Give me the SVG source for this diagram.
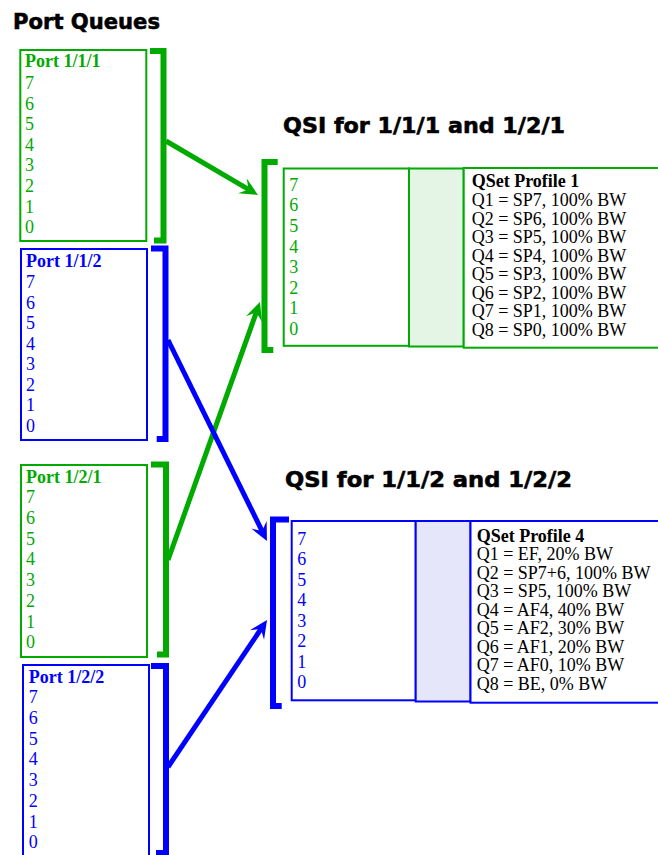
<svg xmlns="http://www.w3.org/2000/svg" width="658" height="855" viewBox="0 0 658 855">
<style>
.title{font-family:"DejaVu Sans",sans-serif;font-weight:bold;font-size:22px;fill:#000;stroke:#000;stroke-width:0.6}
.t{font-family:"Liberation Serif","Times New Roman",serif;font-size:18px}
.b{font-weight:bold}
.g{fill:#00aa00}
.bl{fill:#0000ff}
.k{fill:#000}
.boxg{fill:#fff;stroke:#00aa00;stroke-width:2}
.boxb{fill:#fff;stroke:#0000ff;stroke-width:2}
.brg{fill:none;stroke:#00aa00;stroke-width:6;stroke-linejoin:miter}
.brb{fill:none;stroke:#0000ff;stroke-width:6;stroke-linejoin:miter}
.ag{stroke:#00aa00;stroke-width:5;fill:none}
.ab{stroke:#0000ff;stroke-width:5;fill:none}
</style>
<defs>
<marker id="mg" markerUnits="userSpaceOnUse" viewBox="-20 -10 22 20" markerWidth="22" markerHeight="20" refX="-11" refY="0" orient="auto">
<path d="M0,0 L-18,-8.5 L-11,0 L-18,8.5 Z" fill="#00aa00"/>
</marker>
<marker id="mb" markerUnits="userSpaceOnUse" viewBox="-20 -10 22 20" markerWidth="22" markerHeight="20" refX="-11" refY="0" orient="auto">
<path d="M0,0 L-18,-8.5 L-11,0 L-18,8.5 Z" fill="#0000ff"/>
</marker>
</defs>
<rect width="658" height="855" fill="#fff"/>
<text class="title" x="13" y="29" textLength="147" lengthAdjust="spacingAndGlyphs">Port Queues</text>
<text class="title" x="283" y="133" textLength="282" lengthAdjust="spacingAndGlyphs">QSI for 1/1/1 and 1/2/1</text>
<text class="title" x="285" y="487" textLength="287" lengthAdjust="spacingAndGlyphs">QSI for 1/1/2 and 1/2/2</text>

<g id="port111">
<rect class="boxg" x="20.3" y="50" width="126" height="191"/>
<path class="brg" d="M150,51 H163.5 V240.5 H154"/>
<text class="t g b" x="25" y="67">Port 1/1/1</text>
<text class="t g" x="25" y="89">7</text><text class="t g" x="25" y="109.6">6</text><text class="t g" x="25" y="130.2">5</text><text class="t g" x="25" y="150.8">4</text><text class="t g" x="25" y="171.4">3</text><text class="t g" x="25" y="192">2</text><text class="t g" x="25" y="212.6">1</text><text class="t g" x="25" y="233.2">0</text>
</g>
<g id="port112">
<rect class="boxb" x="21" y="249" width="126" height="191"/>
<path class="brb" d="M151,248.5 H165.5 V439 H156.7"/>
<text class="t bl b" x="26" y="266.7">Port 1/1/2</text>
<text class="t bl" x="26" y="288.3">7</text><text class="t bl" x="26" y="308.8">6</text><text class="t bl" x="26" y="329.3">5</text><text class="t bl" x="26" y="349.8">4</text><text class="t bl" x="26" y="370.3">3</text><text class="t bl" x="26" y="390.8">2</text><text class="t bl" x="26" y="411.3">1</text><text class="t bl" x="26" y="431.8">0</text>
</g>
<g id="port121">
<rect class="boxg" x="21" y="465" width="126" height="192"/>
<path class="brg" d="M151,464.5 H166 V654.5 H157"/>
<text class="t g b" x="26" y="483.3">Port 1/2/1</text>
<text class="t g" x="26" y="503.3">7</text><text class="t g" x="26" y="524">6</text><text class="t g" x="26" y="544.7">5</text><text class="t g" x="26" y="565.4">4</text><text class="t g" x="26" y="586.1">3</text><text class="t g" x="26" y="606.8">2</text><text class="t g" x="26" y="627.5">1</text><text class="t g" x="26" y="648.2">0</text>
</g>
<g id="port122">
<rect class="boxb" x="23" y="665" width="126" height="200"/>
<path class="brb" d="M151,666 H166 V853 H156"/>
<text class="t bl b" x="28.7" y="683.3">Port 1/2/2</text>
<text class="t bl" x="28.7" y="703.3">7</text><text class="t bl" x="28.7" y="724">6</text><text class="t bl" x="28.7" y="744.7">5</text><text class="t bl" x="28.7" y="765.4">4</text><text class="t bl" x="28.7" y="786.1">3</text><text class="t bl" x="28.7" y="806.8">2</text><text class="t bl" x="28.7" y="827.5">1</text><text class="t bl" x="28.7" y="848.2">0</text>
</g>

<g id="qsi1">
<rect class="boxg" x="283.7" y="168.5" width="125.3" height="177.3"/>
<rect x="409" y="168.5" width="54.7" height="178" fill="#e5f5e5" stroke="#00aa00" stroke-width="2"/>
<rect class="boxg" x="463.7" y="168" width="200" height="179.7"/>
<path class="brg" d="M277.7,162 H264.5 V350 H273.3"/>
<text class="t g" x="289.3" y="190.7">7</text><text class="t g" x="289.3" y="211.3">6</text><text class="t g" x="289.3" y="231.9">5</text><text class="t g" x="289.3" y="252.5">4</text><text class="t g" x="289.3" y="273.1">3</text><text class="t g" x="289.3" y="293.7">2</text><text class="t g" x="289.3" y="314.3">1</text><text class="t g" x="289.3" y="334.9">0</text>
<text class="t k b" x="471.7" y="187">QSet Profile 1</text>
<text class="t k" x="471.7" y="206">Q1 = SP7, 100% BW</text>
<text class="t k" x="471.7" y="224.5">Q2 = SP6, 100% BW</text>
<text class="t k" x="471.7" y="243.1">Q3 = SP5, 100% BW</text>
<text class="t k" x="471.7" y="261.6">Q4 = SP4, 100% BW</text>
<text class="t k" x="471.7" y="280.1">Q5 = SP3, 100% BW</text>
<text class="t k" x="471.7" y="298.7">Q6 = SP2, 100% BW</text>
<text class="t k" x="471.7" y="317.2">Q7 = SP1, 100% BW</text>
<text class="t k" x="471.7" y="335.7">Q8 = SP0, 100% BW</text>
</g>

<g id="qsi4">
<rect class="boxb" x="291.7" y="521" width="124" height="179.3"/>
<rect x="415.7" y="521" width="54.8" height="180.5" fill="#e6e6fa" stroke="#0000ff" stroke-width="2"/>
<rect class="boxb" x="470.5" y="521" width="200" height="181.7"/>
<path class="brb" d="M289,519.5 H273 V706 H281.7"/>
<text class="t bl" x="297.3" y="545">7</text><text class="t bl" x="297.3" y="565.4">6</text><text class="t bl" x="297.3" y="585.9">5</text><text class="t bl" x="297.3" y="606.3">4</text><text class="t bl" x="297.3" y="626.7">3</text><text class="t bl" x="297.3" y="647.2">2</text><text class="t bl" x="297.3" y="667.6">1</text><text class="t bl" x="297.3" y="688">0</text>
<text class="t k b" x="476.7" y="541.7">QSet Profile 4</text>
<text class="t k" x="476.7" y="560">Q1 = EF, 20% BW</text>
<text class="t k" x="476.7" y="578.6">Q2 = SP7+6, 100% BW</text>
<text class="t k" x="476.7" y="597.1">Q3 = SP5, 100% BW</text>
<text class="t k" x="476.7" y="615.7">Q4 = AF4, 40% BW</text>
<text class="t k" x="476.7" y="634.3">Q5 = AF2, 30% BW</text>
<text class="t k" x="476.7" y="652.9">Q6 = AF1, 20% BW</text>
<text class="t k" x="476.7" y="671.4">Q7 = AF0, 10% BW</text>
<text class="t k" x="476.7" y="690">Q8 = BE, 0% BW</text>
</g>

<g id="connectors">
<line class="ag" x1="166" y1="141" x2="248.5" y2="189.4" marker-end="url(#mg)"/>
<line class="ag" x1="168" y1="560" x2="256.3" y2="312.4" marker-end="url(#mg)"/>
<line class="ab" x1="168" y1="340" x2="262.1" y2="531.1" marker-end="url(#mb)"/>
<line class="ab" x1="168" y1="767" x2="260.9" y2="629.1" marker-end="url(#mb)"/>
</g>
</svg>
